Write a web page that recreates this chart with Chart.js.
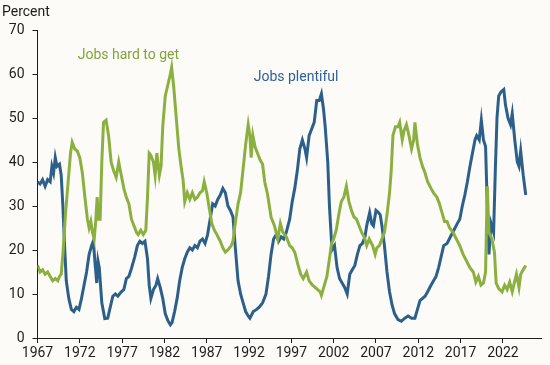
<!DOCTYPE html>
<html>
<head>
<meta charset="utf-8">
<script src="https://cdn.jsdelivr.net/npm/chart.js@4.4.1/dist/chart.umd.min.js"></script>
<style>
  html, body { margin: 0; padding: 0; background: #fcfbf7; }
  #wrap { width: 550px; height: 365px; position: relative; }
</style>
</head>
<body>
<div id="wrap"><canvas id="chart"></canvas></div>
<script>
// ------------------- Data ------------------- //

// Jobs plentiful: decimal year and percent
const plentifulYears = [
  1967.0, 1967.3, 1967.6, 1967.9, 1968.2, 1968.5, 1968.7, 1968.9, 1969.1, 1969.3, 1969.6, 1969.8,
  1970.0, 1970.2, 1970.4, 1970.7, 1971.0, 1971.3, 1971.6, 1971.9, 1972.2, 1972.5, 1972.8, 1973.1,
  1973.4, 1973.6, 1973.8, 1974.0, 1974.15, 1974.3, 1974.6, 1974.95, 1975.3, 1975.6, 1975.9, 1976.2,
  1976.5, 1976.9, 1977.2, 1977.5, 1977.8, 1978.1, 1978.5, 1978.8, 1979.1, 1979.4, 1979.7, 1980.0,
  1980.2, 1980.4, 1980.7, 1981.0, 1981.2, 1981.5, 1981.8, 1982.1, 1982.4, 1982.7, 1982.9, 1983.2,
  1983.5, 1983.8, 1984.1, 1984.4, 1984.7, 1985.0, 1985.3, 1985.6, 1985.9, 1986.2, 1986.5, 1986.8,
  1987.1, 1987.4, 1987.7, 1988.0, 1988.3, 1988.6, 1988.9, 1989.2, 1989.5, 1989.8, 1990.1, 1990.4,
  1990.7, 1991.0, 1991.3, 1991.6, 1991.9, 1992.1, 1992.5, 1992.9, 1993.2, 1993.6, 1994.0, 1994.3,
  1994.6, 1994.9, 1995.2, 1995.5, 1995.8, 1996.1, 1996.4, 1996.8, 1997.1, 1997.4, 1997.7, 1998.0,
  1998.3, 1998.6, 1998.8, 1999.1, 1999.4, 1999.7, 2000.0, 2000.3, 2000.55, 2000.8, 2001.0, 2001.3,
  2001.5, 2001.8, 2002.1, 2002.4, 2002.7, 2003.0, 2003.3, 2003.6, 2003.9, 2004.2, 2004.5, 2004.8,
  2005.1, 2005.4, 2005.7, 2005.9, 2006.25, 2006.5, 2006.7, 2007.0, 2007.3, 2007.5, 2007.7, 2008.0,
  2008.3, 2008.6, 2008.9, 2009.2, 2009.6, 2010.0, 2010.4, 2010.8, 2011.2, 2011.6, 2011.9, 2012.2,
  2012.5, 2012.8, 2013.1, 2013.5, 2013.8, 2014.1, 2014.4, 2014.7, 2015.0, 2015.4, 2015.8, 2016.2,
  2016.6, 2016.9, 2017.2, 2017.5, 2017.8, 2018.1, 2018.4, 2018.7, 2018.9, 2019.2, 2019.45, 2019.7,
  2019.95, 2020.15, 2020.35, 2020.6, 2020.9, 2021.1, 2021.3, 2021.5, 2021.8, 2022.1, 2022.3, 2022.6,
  2022.9, 2023.1, 2023.4, 2023.7, 2023.9, 2024.1, 2024.4, 2024.7
];
const plentifulValues = [
  35.5, 35, 36, 34.5, 36, 35.5, 39, 37.5, 41, 39, 39.5, 37,
  30, 21, 13, 9, 6.5, 6, 7, 6.5, 9, 12, 15, 19,
  21, 22, 17, 12.5, 17.5, 16, 8, 4.4, 4.5, 7, 9.5, 10,
  9.5, 10.5, 11, 13.5, 14, 15.8, 18.5, 21, 22, 21.5, 22, 18,
  12, 9, 11, 12, 13.5, 11.5, 9, 5.5, 4, 3, 3.5, 6,
  9, 13, 16, 18, 19.5, 20.5, 20, 21, 20.5, 22, 22.5, 21.5,
  23.5, 27, 30.5, 30, 31.5, 32.5, 34, 33, 30, 29, 27.5, 20,
  13, 10, 8, 6, 5, 4.5, 6, 6.5, 7, 8, 10, 14,
  19, 22.5, 23.5, 22, 23, 22.5, 24, 27, 31, 34, 38, 43,
  45, 43, 41, 46, 47.5, 49, 54, 54, 55.5, 52, 48, 40,
  30, 20, 21, 16, 13.5, 12.5, 11.5, 10, 14.5, 15.5, 16.5, 19,
  21, 21.5, 23, 25.5, 28.5, 26, 25.5, 29, 28.5, 28, 25.5, 21,
  15, 10.5, 7.5, 5.5, 4.2, 3.8, 4.5, 5, 4.5, 4.5, 6.5, 8.5,
  9, 9.5, 10.5, 12, 13, 14, 16, 18.5, 21, 21.5, 23, 24.5,
  26, 27, 30, 32.5, 35.5, 39, 42, 45, 46, 45, 49.5, 45,
  43.5, 30, 19, 26, 24, 38, 50, 55, 56, 56.5, 53, 50,
  48.5, 51, 45, 40, 39, 42.5, 37, 32.5
];

// Jobs hard to get: decimal year and percent
const hardYears = [
  1967.0, 1967.3, 1967.6, 1967.9, 1968.2, 1968.5, 1968.8, 1969.1, 1969.4, 1969.6, 1969.8, 1970.0,
  1970.3, 1970.6, 1970.9, 1971.1, 1971.4, 1971.7, 1972.0, 1972.3, 1972.6, 1972.9, 1973.1, 1973.3,
  1973.5, 1973.7, 1973.9, 1974.05, 1974.2, 1974.4, 1974.6, 1974.8, 1975.1, 1975.4, 1975.7, 1976.0,
  1976.3, 1976.6, 1976.9, 1977.2, 1977.5, 1977.8, 1978.1, 1978.4, 1978.7, 1978.9, 1979.2, 1979.5,
  1979.8, 1980.0, 1980.2, 1980.4, 1980.7, 1980.9, 1981.1, 1981.4, 1981.6, 1981.8, 1982.1, 1982.4,
  1982.7, 1982.85, 1983.1, 1983.4, 1983.7, 1984.0, 1984.2, 1984.4, 1984.7, 1985.0, 1985.3, 1985.6,
  1985.9, 1986.2, 1986.5, 1986.7, 1987.0, 1987.3, 1987.6, 1987.9, 1988.2, 1988.6, 1988.9, 1989.2,
  1989.5, 1989.9, 1990.1, 1990.4, 1990.7, 1991.0, 1991.3, 1991.6, 1991.9, 1992.1, 1992.25, 1992.45,
  1992.7, 1993.0, 1993.3, 1993.6, 1993.85, 1994.2, 1994.6, 1995.0, 1995.4, 1995.7, 1996.0, 1996.4,
  1996.8, 1997.1, 1997.4, 1997.8, 1998.1, 1998.4, 1998.8, 1999.1, 1999.5, 1999.8, 2000.1, 2000.4,
  2000.55, 2000.9, 2001.2, 2001.5, 2001.75, 2002.0, 2002.3, 2002.6, 2002.9, 2003.2, 2003.5, 2003.8,
  2004.1, 2004.4, 2004.7, 2005.0, 2005.3, 2005.6, 2005.9, 2006.2, 2006.6, 2006.9, 2007.1, 2007.4,
  2007.7, 2008.0, 2008.3, 2008.6, 2008.8, 2009.0, 2009.3, 2009.6, 2009.8, 2010.1, 2010.3, 2010.6,
  2010.9, 2011.2, 2011.45, 2011.6, 2011.9, 2012.2, 2012.5, 2012.8, 2013.1, 2013.5, 2013.8, 2014.2,
  2014.5, 2014.8, 2015.1, 2015.4, 2015.7, 2016.1, 2016.5, 2016.9, 2017.3, 2017.7, 2018.1, 2018.5,
  2018.8, 2019.1, 2019.4, 2019.7, 2019.95, 2020.15, 2020.35, 2020.7, 2021.0, 2021.2, 2021.5, 2021.9,
  2022.2, 2022.5, 2022.8, 2023.1, 2023.4, 2023.6, 2023.9, 2024.1, 2024.4, 2024.7
];
const hardValues = [
  16.5, 15, 15.5, 14.5, 15, 14, 13, 13.5, 13, 14, 14.5, 19,
  28, 35, 42, 44.5, 43, 42.5, 41, 37.5, 32, 27, 25, 26.5,
  24, 22.5, 27, 32, 27, 27, 40, 49, 49.5, 46, 40, 38,
  36.5, 40, 37, 34, 32, 30.5, 27, 25.5, 24, 23.5, 24.5, 23.5,
  24.5, 32, 42, 41.5, 40, 37, 42, 37, 39, 48, 55, 57.5,
  60, 61.5, 57, 50, 43, 38.5, 36, 31, 33, 31.5, 33, 31.5,
  32, 33, 33.5, 35.5, 33, 29.5, 26, 24.5, 23.5, 22, 20.5, 19.5,
  20, 21, 22, 26.5, 30.5, 33, 38.5, 44, 48.5, 46, 41, 46,
  43.5, 42, 40.5, 39.5, 35.5, 32.5, 27.5, 25.5, 22.5, 26, 24, 23,
  21, 20.5, 19.5, 16.5, 14.5, 13.5, 15, 13, 12, 11.5, 11, 10.5,
  9.7, 12, 14, 18, 21.5, 22.5, 24.5, 28, 31, 32, 34.5, 31,
  29, 27.5, 27, 25.5, 24, 23, 21, 22.5, 21, 19, 20.5, 21,
  22.5, 24, 28, 33, 38, 46, 48, 48, 49, 45, 47, 48.5,
  46, 43, 45, 49, 44, 41, 39, 37.5, 35.5, 34, 33, 32,
  30.5, 28.5, 26.5, 26.5, 25, 24, 22.5, 21, 19, 17.5, 16, 15,
  12.7, 14, 12, 12.5, 15, 34.5, 24, 22.5, 19.5, 12.5, 11.2, 10.5,
  12, 11, 12.7, 10.5, 13, 14.5, 11.5, 14.5, 15.5, 16.5
];

// Axis ticks
const yearTicks = [1967, 1972, 1977, 1982, 1987, 1992, 1997, 2002, 2007, 2012, 2017, 2022];
const percentTicks = [0, 10, 20, 30, 40, 50, 60, 70];

// ------------------- Helpers ------------------- //

function toPoints(xs, ys) {
  return xs.map((x, i) => ({ x: x, y: ys[i] }));
}

const BLUE = "#2d5f8b";
const GREEN = "#8cb03f";
const INK = "#1d1d1d";
const FONT = "Roboto, 'Liberation Sans', sans-serif";

// paint the off-white background
const bgPlugin = {
  id: "bg",
  beforeDraw(chart) {
    const ctx = chart.ctx;
    ctx.save();
    ctx.fillStyle = "#fcfbf7";
    ctx.fillRect(0, 0, chart.width, chart.height);
    ctx.restore();
  }
};

// series names and the "Percent" title, placed in data units
const labelPlugin = {
  id: "labels",
  afterDatasetsDraw(chart) {
    const ctx = chart.ctx;
    const xs = chart.scales.x, ys = chart.scales.y;
    ctx.save();
    ctx.font = "14px " + FONT;
    ctx.textBaseline = "middle";
    ctx.textAlign = "left";
    ctx.fillStyle = "#7fa53a";
    ctx.fillText("Jobs hard to get", xs.getPixelForValue(1971.75), ys.getPixelForValue(64.3));
    ctx.fillStyle = "#2f6298";
    ctx.fillText("Jobs plentiful", xs.getPixelForValue(1992.55), ys.getPixelForValue(59.1));
    ctx.fillStyle = INK;
    ctx.fillText("Percent", 2, 12);
    ctx.restore();
  }
};

// ------------------- Chart ------------------- //

new Chart(document.getElementById("chart"), {
  type: "line",
  data: {
    datasets: [
      {
        label: "Jobs hard to get",
        data: toPoints(hardYears, hardValues),
        borderColor: GREEN,
        borderWidth: 3,
        pointRadius: 0,
        tension: 0
      },
      {
        label: "Jobs plentiful",
        data: toPoints(plentifulYears, plentifulValues),
        borderColor: BLUE,
        borderWidth: 3,
        pointRadius: 0,
        tension: 0
      }
    ]
  },
  options: {
    responsive: true,
    maintainAspectRatio: false,
    animation: false,
    layout: { padding: { top: 30, right: 9, left: 0, bottom: 0 } },
    plugins: { legend: { display: false }, tooltip: { enabled: false } },
    scales: {
      x: {
        type: "linear",
        min: 1967,
        max: 2026.5,
        afterBuildTicks: (scale) => { scale.ticks = yearTicks.map(v => ({ value: v })); },
        afterFit: (scale) => { scale.height = 27; },
        ticks: {
          callback: (v) => String(v),
          color: INK,
          font: { family: FONT, size: 14 },
          maxRotation: 0,
          autoSkip: false,
          padding: 2
        },
        grid: { drawOnChartArea: false, drawTicks: true, tickLength: 5, color: INK },
        border: { display: true, color: INK, width: 1 }
      },
      y: {
        min: 0,
        max: 70,
        afterBuildTicks: (scale) => { scale.ticks = percentTicks.map(v => ({ value: v })); },
        afterFit: (scale) => { scale.width = 37.5; },
        ticks: {
          color: INK,
          font: { family: FONT, size: 14 },
          padding: 8
        },
        grid: { drawOnChartArea: false, drawTicks: true, tickLength: 5, color: INK },
        border: { display: true, color: INK, width: 1 }
      }
    }
  },
  plugins: [bgPlugin, labelPlugin]
});
</script>
</body>
</html>
